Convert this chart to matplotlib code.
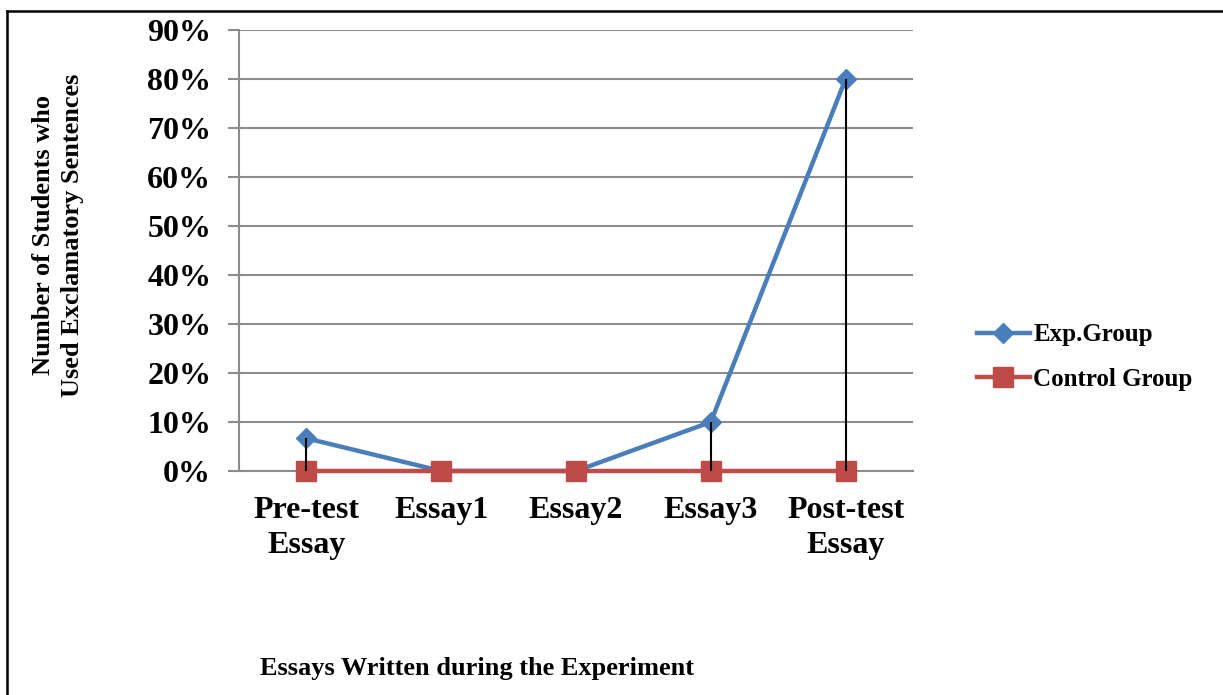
import matplotlib.pyplot as plt
from matplotlib.lines import Line2D
from matplotlib.ticker import PercentFormatter

categories = ['Pre-test\nEssay', 'Essay1', 'Essay2', 'Essay3', 'Post-test\nEssay']
exp_group = [0.0667, 0.0, 0.0, 0.10, 0.80]
control_group = [0.0, 0.0, 0.0, 0.0, 0.0]
y_ticks = [0.0, 0.1, 0.2, 0.3, 0.4, 0.5, 0.6, 0.7, 0.8, 0.9]

blue = '#4A7EBB'
red = '#BE4B48'
grid = '#8C8C8C'

plt.rcParams['font.family'] = ['Liberation Serif', 'DejaVu Serif']
plt.rcParams['font.weight'] = 'bold'

fig = plt.figure(figsize=(12.23, 6.95), dpi=100)
ax = fig.add_axes([239 / 1223, 1 - 471 / 695, 674 / 1223, 441 / 695])

x = list(range(len(categories)))
ax.plot(x, exp_group, color=blue, lw=3.2, marker='D', ms=10.5,
        label='Exp.Group', zorder=3, solid_capstyle='round', clip_on=False)
ax.plot(x, control_group, color=red, lw=3.2, marker='s', ms=14.5,
        label='Control Group', zorder=4, solid_capstyle='round', clip_on=False)

# drop lines from the experimental group down to the axis
ax.vlines(x, control_group, exp_group, color='black', lw=1.5, zorder=5,
          clip_on=False)

ax.set_xlim(-0.5, len(categories) - 0.5)
ax.set_ylim(0, 0.9)
ax.set_yticks(y_ticks)
ax.yaxis.set_major_formatter(PercentFormatter(1.0, decimals=0))
ax.set_xticks(x)
ax.set_xticklabels(categories, fontsize=23, fontweight='bold', linespacing=1.25)
for lab in ax.get_yticklabels():
    lab.set_fontsize(23)
    lab.set_fontweight('bold')

ax.grid(axis='y', color=grid, lw=1.5)
ax.set_axisbelow(True)
for side in ['top', 'right']:
    ax.spines[side].set_visible(False)
ax.spines['left'].set_color(grid)
ax.spines['left'].set_linewidth(1.5)
ax.spines['bottom'].set_color(grid)
ax.spines['bottom'].set_linewidth(1.5)
ax.tick_params(axis='y', length=8, width=1.5, color=grid, pad=12)
ax.tick_params(axis='x', length=0, pad=18)

fig.text(58 / 1223, 1 - 235 / 695,
         'Number of Students who\nUsed Exclamatory Sentences',
         rotation=90, ha='center', va='center', fontsize=19,
         fontweight='bold', linespacing=1.35)
fig.text(477 / 1223, 1 - 669 / 695, 'Essays Written during the Experiment',
         ha='center', va='center', fontsize=19, fontweight='bold')

handles = [Line2D([], [], color=blue, lw=3.2, marker='D', ms=10.5),
           Line2D([], [], color=red, lw=3.2, marker='s', ms=14.5)]
fig.legend(handles, ['Exp.Group', 'Control Group'],
           loc='center left', bbox_to_anchor=(967 / 1223, 1 - 357 / 695),
           frameon=False, prop={'size': 18, 'weight': 'bold'},
           handlelength=2.1, handletextpad=0.15, labelspacing=0.85,
           borderaxespad=0)

# frame around the figure (top and left edges only)
fig.add_artist(Line2D([7 / 1223, 7 / 1223], [0, 1 - 11 / 695],
                      color='black', lw=1.8))
fig.add_artist(Line2D([7 / 1223, 1], [1 - 11 / 695, 1 - 11 / 695],
                      color='black', lw=1.8))

fig.savefig('out.png', dpi=100)
